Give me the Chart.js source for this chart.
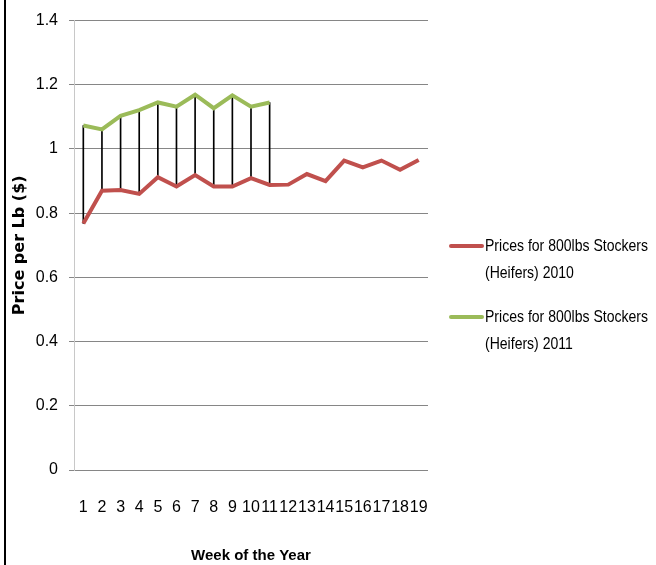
<!DOCTYPE html>
<html>
<head>
<meta charset="utf-8">
<script src="https://cdn.jsdelivr.net/npm/chart.js@4"></script>
<style>
  html, body { margin: 0; padding: 0; background: #fff; }
  #wrap { position: relative; width: 656px; height: 565px; }
  #edge { position: absolute; left: 4px; top: 0; width: 2px; height: 565px; background: #000; }
</style>
</head>
<body>
<div id="wrap">
  <canvas id="c" width="656" height="565"></canvas>
  <div id="edge"></div>
</div>
<script>
const categories = ['1','2','3','4','5','6','7','8','9','10','11','12','13','14','15','16','17','18','19'];
const prices2010 = [0.768, 0.870, 0.872, 0.860, 0.912, 0.883, 0.919, 0.883, 0.883, 0.909, 0.888, 0.889, 0.922, 0.900, 0.964, 0.943, 0.964, 0.935, 0.966];
const prices2011 = [1.073, 1.061, 1.103, 1.121, 1.145, 1.132, 1.169, 1.127, 1.167, 1.132, 1.145];
const yTickValues = [0, 0.2, 0.4, 0.6, 0.8, 1, 1.2, 1.4];
const seriesNames = [
  ['Prices for 800lbs Stockers', '(Heifers) 2010'],
  ['Prices for 800lbs Stockers', '(Heifers) 2011']
];
const seriesColors = ['#C0504D', '#9BBB59'];

const highLow = categories.map((c, i) => i < prices2011.length ? [prices2010[i], prices2011[i]] : null);

const FONT = "'Liberation Sans', sans-serif";

const legendPlugin = {
  id: 'sideLegend',
  afterDraw(chart) {
    const ctx = chart.ctx;
    const starts = [246, 317];
    ctx.save();
    ctx.font = '17px ' + FONT;
    const w = ctx.measureText(seriesNames[0][0]).width;
    const sx = 163 / w;
    seriesNames.forEach((lines, k) => {
      const y = starts[k];
      ctx.strokeStyle = seriesColors[k];
      ctx.lineWidth = 4;
      ctx.lineCap = 'round';
      ctx.beginPath();
      ctx.moveTo(451, y);
      ctx.lineTo(482, y);
      ctx.stroke();
      ctx.save();
      ctx.translate(485, 0);
      ctx.scale(sx, 1);
      ctx.textBaseline = 'middle';
      ctx.textAlign = 'left';
      ctx.fillStyle = '#000';
      lines.forEach((t, j) => ctx.fillText(t, 0, y + j * 27));
      ctx.restore();
    });
    ctx.restore();
  }
};

new Chart(document.getElementById('c'), {
  data: {
    labels: categories,
    datasets: [
      {
        type: 'line',
        label: seriesNames[0].join(' '),
        data: prices2010,
        borderColor: seriesColors[0],
        backgroundColor: seriesColors[0],
        borderWidth: 4,
        pointRadius: 0,
        tension: 0,
        order: 0
      },
      {
        type: 'line',
        label: seriesNames[1].join(' '),
        data: prices2011,
        borderColor: seriesColors[1],
        backgroundColor: seriesColors[1],
        borderWidth: 4,
        pointRadius: 0,
        tension: 0,
        order: 0
      },
      {
        type: 'bar',
        label: 'High-Low',
        data: highLow,
        backgroundColor: '#000',
        borderWidth: 0,
        barThickness: 1,
        grouped: false,
        order: 1
      }
    ]
  },
  options: {
    responsive: false,
    animation: false,
    layout: { padding: { top: 16, right: 228, left: 0, bottom: 0 } },
    plugins: {
      legend: { display: false },
      tooltip: { enabled: false }
    },
    scales: {
      x: {
        type: 'category',
        offset: true,
        grid: { display: false, drawTicks: false },
        border: { display: false },
        ticks: { font: { family: FONT, size: 16 }, color: '#000', padding: 28, maxRotation: 0, autoSkip: false },
        title: { display: true, text: 'Week of the Year', font: { family: FONT, size: 15, weight: 'bold' }, color: '#000', padding: { top: 0, bottom: 0 } },
        afterFit(s) { s.width = s.width; s.height = 95; }
      },
      y: {
        min: 0,
        max: 1.4,
        afterBuildTicks(s) { s.ticks = yTickValues.map(v => ({ value: v })); },
        grid: { color: '#868686', lineWidth: 1, tickLength: 5, drawTicks: true },
        border: { display: true, color: '#C8C8C8', width: 1 },
        ticks: { font: { family: FONT, size: 16 }, color: '#000', padding: 11, callback: v => String(v) },
        title: { display: true, text: 'Price per Lb ($)', font: { family: "'DejaVu Sans', sans-serif", size: 16, weight: 'bold' }, color: '#000', padding: { top: 10, bottom: 0 } },
        afterFit(s) { s.width = 74; }
      }
    }
  },
  plugins: [legendPlugin]
});
</script>
</body>
</html>
